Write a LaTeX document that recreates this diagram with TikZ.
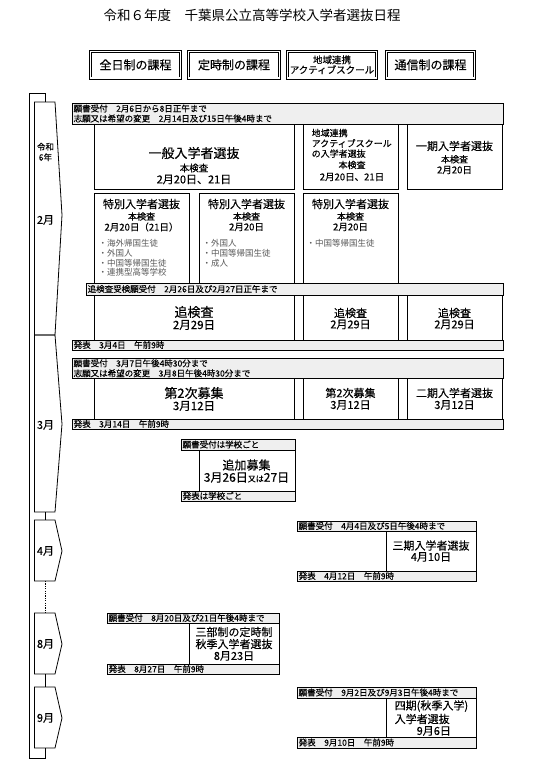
\documentclass[tikz,border=0pt]{standalone}
\usepackage{tikz}
\usepackage{fontspec}
\setmainfont{Noto Sans CJK JP}[FakeBold=0.35]
\newfontfamily\thinfont{Noto Sans CJK JP}
\definecolor{bargray}{HTML}{EFEFEF}
\definecolor{bulgray}{HTML}{5A5A5A}
\newcommand\cellnode[6]{\node[#6, minimum width={#4-#2}, minimum height={#5-#3}] (#1) at (#2,#3) {};}
\newcommand\chevron[4]{%
  \draw[frame] (34.5,#2) -- (55,#2) -- (62,#3) -- (55,#4) -- (34.5,#4) -- cycle;
  \coordinate (#1-t) at (45,#2);
  \coordinate (#1-b) at (45,#4);}
\tikzset{
  frame/.style={draw=black, line width=0.8pt, line join=miter},
  cellbox/.style={draw=black, line width=0.8pt, inner sep=0pt, outer sep=0pt, anchor=north west},
  barbox/.style={cellbox, fill=bargray},
  hdrbox/.style={draw=black, double, double distance=1.5pt, line width=0.65pt, inner sep=0pt, align=center, font=\fontsize{12}{14}\selectfont},
  bt/.style={inner sep=0pt, anchor=west, align=left, font=\fontsize{8.5}{10}\selectfont},
  bul/.style={inner sep=0pt, anchor=west, align=left, text=bulgray, font=\thinfont\fontsize{8.5}{10}\selectfont},
  tx/.style={inner sep=0pt, align=center},
  fxl/.style={tx, font=\fontsize{13}{15}\selectfont},
  fl/.style={tx, font=\fontsize{11.5}{13}\selectfont},
  fm/.style={tx, font=\fontsize{11}{12}\selectfont},
  fs/.style={tx, font=\fontsize{9.5}{11}\selectfont},
  fxs/.style={tx, font=\fontsize{9}{10}\selectfont},
  mon/.style={tx, font=\fontsize{11}{12}\selectfont},
}
\begin{document}
\begin{tikzpicture}[x=1pt,y=-1pt]
\useasboundingbox[fill=white] (0,0) rectangle (552,782);

% title
\node[tx, font=\thinfont\fontsize{13.5}{15}\selectfont] (title) at (252,15) {令和６年度　千葉県公立高等学校入学者選抜日程};

% headers
\node[hdrbox, minimum width=90.3, minimum height=26.8] (h1) at (135.5,64.8) {全日制の課程};
\node[hdrbox, minimum width=91.3, minimum height=26.8] (h2) at (234,64.8) {定時制の課程};
\node[hdrbox, minimum width=89.3, minimum height=26.8, font=\fontsize{9.5}{10}\selectfont] (h3) at (332,64.8) {地域連携\\アクティブスクール};
\node[hdrbox, minimum width=88.3, minimum height=26.8] (h4) at (430.5,64.8) {通信制の課程};

% month column
\chevron{m2}{102}{215}{335}
\chevron{m3}{335}{424}{512}
\chevron{m4}{520}{551}{581}
\chevron{m8}{613}{644}{674}
\chevron{m9}{687}{718}{748}
\coordinate (o1) at (45,93);
\coordinate (o2) at (29.5,93);
\coordinate (o3) at (29.5,758);
\coordinate (o4) at (45,758);
\draw[frame] (m2-t) -- (o1) -- (o2) -- (o3) -- (o4) -- (m9-b);
\draw[frame] (m3-b) -- (m4-t);
\draw[frame, dash pattern=on 1.2pt off 1.2pt] (m4-b) -- (m8-t);
\draw[frame] (m8-b) -- (m9-t);
\node[tx, font=\fontsize{8.5}{10.5}\selectfont] (lreiwa) at (45.5,152) {令和\\6年};
\node[mon] (l2) at (45.5,220) {2月};
\node[mon] (l3) at (45.5,425) {3月};
\node[mon] (l4) at (45.5,551) {4月};
\node[mon] (l8) at (45.5,644) {8月};
\node[mon] (l9) at (45.5,718) {9月};

% ---- February ----
\cellnode{bar1}{72}{103}{503}{124}{barbox}
\node[bt] (bar1t) at (73.5,113.5) {願書受付　2月6日から8日正午まで\\志願又は希望の変更　2月14日及び15日午後4時まで};

\cellnode{c1a}{94}{124}{294}{189}{cellbox}
\node[fxl] (c1a1) at (194,153) {一般入学者選抜};
\node[fs] (c1a2) at (194,168) {本検査};
\node[fm] (c1a3) at (194,179.5) {2月20日、21日};

\cellnode{c3a}{303}{124}{398}{189}{cellbox}
\node[fxs, anchor=west] (c3a1) at (311.5,133) {地域連携};
\node[fxs, anchor=west] (c3a2) at (311.5,143.3) {アクティブスクール};
\node[fxs, anchor=west] (c3a3) at (311.5,153.6) {の入学者選抜};
\node[fxs] (c3a4) at (352,165) {本検査};
\node[fs] (c3a5) at (352,177) {2月20日、21日};

\cellnode{c4a}{407}{124}{502}{189}{cellbox}
\node[fm] (c4a1) at (454.5,146) {一期入学者選抜};
\node[fxs] (c4a2) at (454.5,159.3) {本検査};
\node[fs] (c4a3) at (454.5,170) {2月20日};

\cellnode{c1b}{94}{193}{189}{283}{cellbox}
\node[fm] (c1b1) at (141.5,204) {特別入学者選抜};
\node[fxs] (c1b2) at (141.5,216.5) {本検査};
\node[fs] (c1b3) at (141.5,227) {2月20日（21日）};
\node[bul] (c1b4) at (98.5,243) {・海外帰国生徒};
\node[bul] (c1b5) at (98.5,253) {・外国人};
\node[bul] (c1b6) at (98.5,263) {・中国等帰国生徒};
\node[bul] (c1b7) at (98.5,272.5) {・連携型高等学校};

\cellnode{c2b}{199}{193}{294}{283}{cellbox}
\node[fm] (c2b1) at (246.5,204) {特別入学者選抜};
\node[fxs] (c2b2) at (246.5,216.5) {本検査};
\node[fs] (c2b3) at (246.5,227) {2月20日};
\node[bul] (c2b4) at (202.5,243) {・外国人};
\node[bul] (c2b5) at (202.5,253) {・中国等帰国生徒};
\node[bul] (c2b6) at (202.5,263) {・成人};

\cellnode{c3b}{303}{193}{398}{283}{cellbox}
\node[fm] (c3b1) at (350.5,204) {特別入学者選抜};
\node[fxs] (c3b2) at (350.5,216.5) {本検査};
\node[fs] (c3b3) at (350.5,227) {2月20日};
\node[bul] (c3b4) at (306.5,243) {・中国等帰国生徒};

\cellnode{bar2}{86}{283}{503}{295}{barbox}
\node[bt] (bar2t) at (87.5,289) {追検査受検願受付　2月26日及び2月27日正午まで};

\cellnode{c1c}{94}{295}{294}{340}{cellbox}
\node[fxl] (c1c1) at (194,312) {追検査};
\node[fl] (c1c2) at (194,325) {2月29日};
\cellnode{c3c}{303}{295}{398}{340}{cellbox}
\node[fm] (c3c1) at (350.5,313) {追検査};
\node[fm] (c3c2) at (350.5,324.5) {2月29日};
\cellnode{c4c}{407}{295}{502}{340}{cellbox}
\node[fm] (c4c1) at (454.5,313) {追検査};
\node[fm] (c4c2) at (454.5,324.5) {2月29日};

\cellnode{bar3}{72}{340}{503}{350}{barbox}
\node[bt] (bar3t) at (73.5,345) {発表　3月4日　午前9時};

% ---- March ----
\cellnode{bar4}{72}{358}{503}{378}{barbox}
\node[bt] (bar4t) at (73.5,368.3) {願書受付　3月7日午後4時30分まで\\志願又は希望の変更　3月8日午後4時30分まで};

\cellnode{c1d}{94}{378}{294}{419}{cellbox}
\node[fxl] (c1d1) at (194,393) {第2次募集};
\node[fl] (c1d2) at (194,406) {3月12日};
\cellnode{c3d}{303}{378}{398}{419}{cellbox}
\node[fm] (c3d1) at (350.5,393) {第2次募集};
\node[fm] (c3d2) at (350.5,405) {3月12日};
\cellnode{c4d}{407}{378}{502}{419}{cellbox}
\node[fm] (c4d1) at (454.5,393) {二期入学者選抜};
\node[fm] (c4d2) at (454.5,405) {3月12日};

\cellnode{bar5}{72}{419}{503}{429}{barbox}
\node[bt] (bar5t) at (73.5,424) {発表　3月14日　午前9時};

\cellnode{bar6}{181}{439}{295}{450}{barbox}
\node[bt] (bar6t) at (182.5,444.5) {願書受付は学校ごと};
\cellnode{c2e}{199}{450}{295}{491}{cellbox}
\node[tx, font=\fontsize{12}{13}\selectfont] (c2e1) at (246.5,465) {追加募集};
\node[tx, font=\fontsize{12}{13}\selectfont] (c2e2) at (246.5,477.5) {3月26日{\fontsize{8}{9}\selectfont 又は}27日};
\cellnode{bar7}{181}{491}{295}{501}{barbox}
\node[bt] (bar7t) at (182.5,496) {発表は学校ごと};

% ---- April ----
\cellnode{bar8}{297}{521}{476}{531}{barbox}
\node[bt] (bar8t) at (298.5,526) {願書受付　4月4日及び5日午後4時まで};
\cellnode{c4f}{386}{531}{476}{571}{cellbox}
\node[fm] (c4f1) at (431,545.5) {三期入学者選抜};
\node[fm] (c4f2) at (431,557) {4月10日};
\cellnode{bar9}{297}{571}{476}{581}{barbox}
\node[bt] (bar9t) at (298.5,576) {発表　4月12日　午前9時};

% ---- August ----
\cellnode{bar10}{107}{613}{279}{623}{barbox}
\node[bt] (bar10t) at (108.5,618) {願書受付　8月20日及び21日午後4時まで};
\cellnode{c2g}{189}{623}{279}{664}{cellbox}
\node[fm] (c2g1) at (234,632) {三部制の定時制};
\node[fm] (c2g2) at (234,644) {秋季入学者選抜};
\node[fm] (c2g3) at (234,656) {8月23日};
\cellnode{bar11}{107}{664}{279}{674}{barbox}
\node[bt] (bar11t) at (108.5,669) {発表　8月27日　午前9時};

% ---- September ----
\cellnode{bar12}{297}{687}{476}{698}{barbox}
\node[bt] (bar12t) at (298.5,692.5) {願書受付　9月2日及び9月3日午後4時まで};
\cellnode{c4h}{386}{698}{476}{737}{cellbox}
\node[fm, anchor=west] (c4h1) at (394.5,706) {四期(秋季入学)};
\node[fm, anchor=west] (c4h2) at (394.5,719) {入学者選抜};
\node[fm, anchor=west] (c4h3) at (416.5,731) {9月6日};
\cellnode{bar13}{297}{737}{476}{748}{barbox}
\node[bt] (bar13t) at (298.5,742.5) {発表　9月10日　午前9時};
\end{tikzpicture}
\end{document}
